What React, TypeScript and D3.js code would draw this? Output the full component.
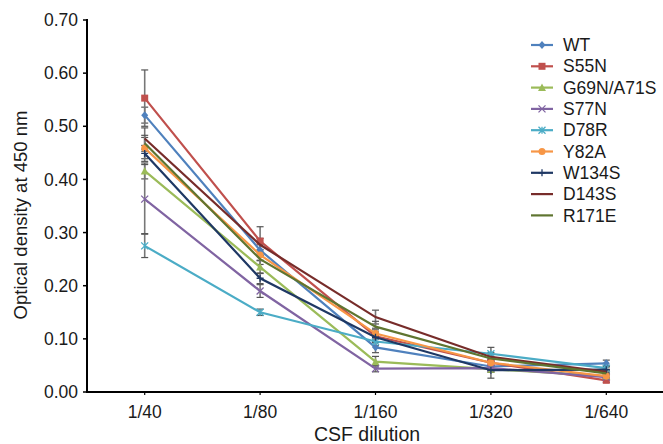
import React from "react";
import * as d3 from "d3";

const categories = ["1/40", "1/80", "1/160", "1/320", "1/640"];
const seriesNames = ["WT", "S55N", "G69N/A71S", "S77N", "D78R", "Y82A", "W134S", "D143S", "R171E"];
const seriesColors = ["#4F81BD", "#C0504D", "#9BBB59", "#8064A2", "#4BACC6", "#F79646", "#1F3864", "#772C2A", "#5F7530"];
const seriesMarkers = ["diamond", "square", "triangle", "x", "star", "circle", "plus", "none", "none"];

const wtValues = [0.521, 0.267, 0.084, 0.048, 0.054];
const s55nValues = [0.553, 0.284, 0.105, 0.055, 0.022];
const g69nValues = [0.416, 0.235, 0.057, 0.043, 0.030];
const s77nValues = [0.363, 0.190, 0.044, 0.045, 0.028];
const d78rValues = [0.275, 0.150, 0.095, 0.072, 0.045];
const y82aValues = [0.459, 0.258, 0.110, 0.055, 0.030];
const w134sValues = [0.449, 0.214, 0.103, 0.041, 0.042];
const d143sValues = [0.477, 0.277, 0.141, 0.066, 0.038];
const r171eValues = [0.468, 0.250, 0.123, 0.063, 0.035];

const wtErr = [0.015, 0.010, 0.010, 0.008, 0.006];
const s55nErr = [0.053, 0.027, 0.012, 0.008, 0.004];
const g69nErr = [0.015, 0.012, 0.010, 0.006, 0.004];
const s77nErr = [0.065, 0.012, 0.006, 0.004, 0.004];
const d78rErr = [0.022, 0.006, 0.008, 0.012, 0.005];
const y82aErr = [0.020, 0.010, 0.010, 0.006, 0.004];
const w134sErr = [0.015, 0.010, 0.008, 0.015, 0.005];
const d143sErr = [0.020, 0.012, 0.013, 0.008, 0.005];
const r171eErr = [0.015, 0.010, 0.010, 0.007, 0.005];

const yTicks = [0, 0.1, 0.2, 0.3, 0.4, 0.5, 0.6, 0.7];

const allValues = [wtValues, s55nValues, g69nValues, s77nValues, d78rValues, y82aValues, w134sValues, d143sValues, r171eValues];
const allErr = [wtErr, s55nErr, g69nErr, s77nErr, d78rErr, y82aErr, w134sErr, d143sErr, r171eErr];

const W = 663;
const H = 444;
const FONT = "'Liberation Sans', Arial, sans-serif";

function Marker({ type, x, y, color }: { type: string; x: number; y: number; color: string }) {
  const s = 3.5;
  switch (type) {
    case "diamond":
      return <path d={`M${x},${y - s - 0.5}L${x + s},${y}L${x},${y + s + 0.5}L${x - s},${y}Z`} fill={color} />;
    case "square":
      return <rect x={x - s} y={y - s} width={2 * s} height={2 * s} fill={color} />;
    case "triangle":
      return <path d={`M${x},${y - s - 0.5}L${x + s + 0.5},${y + s}L${x - s - 0.5},${y + s}Z`} fill={color} />;
    case "circle":
      return <circle cx={x} cy={y} r={s} fill={color} />;
    case "x":
      return (
        <path d={`M${x - s},${y - s}L${x + s},${y + s}M${x - s},${y + s}L${x + s},${y - s}`} stroke={color} strokeWidth={1.3} />
      );
    case "star":
      return (
        <path
          d={`M${x - s},${y - s}L${x + s},${y + s}M${x - s},${y + s}L${x + s},${y - s}M${x},${y - s}L${x},${y + s}`}
          stroke={color}
          strokeWidth={1.3}
        />
      );
    case "plus":
      return <path d={`M${x - s},${y}L${x + s},${y}M${x},${y - s}L${x},${y + s}`} stroke={color} strokeWidth={1.3} />;
    default:
      return null;
  }
}

export default function App() {
  const x = d3.scalePoint<string>().domain(categories).range([87, 664]).padding(0.5);
  const y = d3.scaleLinear().domain([0, 0.7]).range([392, 20]);
  const line = d3
    .line<number>()
    .x((_, i) => x(categories[i]) as number)
    .y((d) => y(d));

  const legendX = 531;
  const legendY0 = 45;
  const legendStep = 21.3;

  return (
    <svg width={W} height={H} style={{ position: "absolute", left: 0, top: 0, background: "#fff" }} fontFamily={FONT}>
      <rect width={W} height={H} fill="#fff" />
      {/* error bars */}
      {allValues.map((vals, si) =>
        vals.map((v, i) => {
          const cx = x(categories[i]) as number;
          const e = allErr[si][i];
          const y1 = y(v + e);
          const y2 = y(v - e);
          return (
            <g key={`e${si}-${i}`} stroke="#555" strokeWidth={1.2}>
              <line x1={cx} x2={cx} y1={y1} y2={y2} stroke="#777" strokeWidth={1.6} />
              <line x1={cx - 3.5} x2={cx + 3.5} y1={y1} y2={y1} />
              <line x1={cx - 3.5} x2={cx + 3.5} y1={y2} y2={y2} />
            </g>
          );
        })
      )}
      {/* lines */}
      {allValues.map((vals, si) => (
        <g key={`s${si}`}>
          <path d={line(vals) as string} fill="none" stroke={seriesColors[si]} strokeWidth={2.2} />
          {vals.map((v, i) => (
            <Marker key={i} type={seriesMarkers[si]} x={x(categories[i]) as number} y={y(v)} color={seriesColors[si]} />
          ))}
        </g>
      ))}
      {/* y axis */}
      <line x1={87} x2={87} y1={19} y2={393} stroke="#000" strokeWidth={2} />
      {yTicks.map((t) => (
        <g key={t}>
          <line x1={83} x2={87} y1={y(t)} y2={y(t)} stroke="#000" strokeWidth={1.5} />
          <text x={78} y={y(t)} dy="0.35em" textAnchor="end" fontSize={17.5} fill="#1a1a1a">
            {t.toFixed(2)}
          </text>
        </g>
      ))}
      {/* x axis */}
      <line x1={86} x2={663} y1={392} y2={392} stroke="#000" strokeWidth={2} />
      {categories.map((c) => (
        <g key={c}>
          <line x1={x(c) as number} x2={x(c) as number} y1={392} y2={395} stroke="#000" strokeWidth={1.2} />
          <text x={x(c) as number} y={418} textAnchor="middle" fontSize={17.5} fill="#1a1a1a">
            {c}
          </text>
        </g>
      ))}
      <text x={367} y={441} textAnchor="middle" fontSize={19.5} fill="#1a1a1a">
        CSF dilution
      </text>
      <text transform={`translate(27,${215}) rotate(-90)`} textAnchor="middle" fontSize={18.5} fill="#1a1a1a">
        Optical density at 450 nm
      </text>
      {/* legend */}
      {seriesNames.map((n, i) => {
        const ly = legendY0 + i * legendStep;
        return (
          <g key={n}>
            <line x1={legendX} x2={legendX + 22} y1={ly} y2={ly} stroke={seriesColors[i]} strokeWidth={2.2} />
            <Marker type={seriesMarkers[i]} x={legendX + 11} y={ly} color={seriesColors[i]} />
            <text x={legendX + 32} y={ly} dy="0.35em" fontSize={17.5} fill="#1a1a1a">
              {n}
            </text>
          </g>
        );
      })}
    </svg>
  );
}
